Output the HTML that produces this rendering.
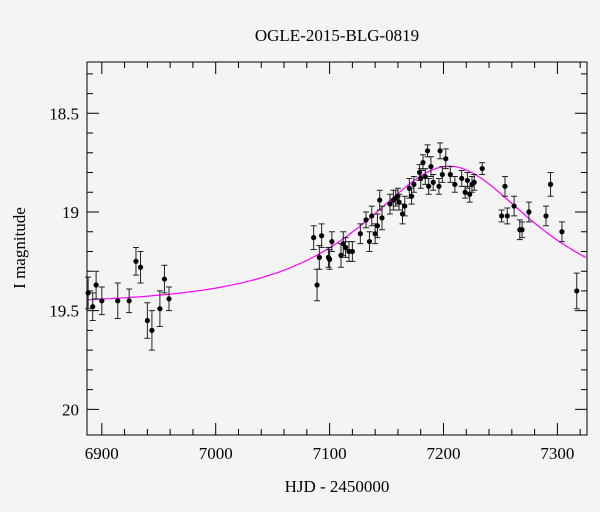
<!DOCTYPE html>
<html><head><meta charset="utf-8"><style>
body{margin:0;background:#f4f4f4}
svg{display:block;font-family:"Liberation Serif",serif}
</style></head><body>
<svg id="c" width="600" height="512">
<rect width="600" height="512" fill="#f4f4f4"/>
<text x="337" y="41" text-anchor="middle" font-size="17">OGLE-2015-BLG-0819</text>
<text x="337" y="492" text-anchor="middle" font-size="17">HJD - 2450000</text>
<text transform="translate(25,248) rotate(-90)" text-anchor="middle" font-size="17">I magnitude</text>
<g id="g"></g>
</svg>
<script>
const days=[6888,6892,6895,6900,6914,6924,6930,6934,6940,6944,6951,6955,6959,
7086,7093,7089,7091,7099,7100,7102,7110,7112,7114,7117,7120,7127,7132,7135,7137,7140,7142,7144,7146,7153,7156,7158,7160,7161,7164,7166,7170,7172,7174,7179,7180,7182,7184,7186,7187,7189,7191,7196,7197,7199,7202,7206,7210,7216,7219,7221,7223,7225,7227,7234,
7251,7254,7256,7262,7267,7269,7275,7290,7294,7304,7317];
const mags=[19.41,19.48,19.37,19.45,19.45,19.45,19.25,19.28,19.55,19.60,19.49,19.34,19.44,
19.13,19.12,19.37,19.23,19.23,19.24,19.15,19.22,19.16,19.18,19.20,19.20,19.11,19.04,19.15,19.02,19.11,19.07,18.94,19.03,18.96,18.94,18.93,18.92,18.95,19.01,18.97,18.88,18.92,18.86,18.80,18.83,18.75,18.82,18.69,18.87,18.77,18.85,18.87,18.69,18.81,18.73,18.81,18.86,18.83,18.90,18.84,18.91,18.86,18.85,18.78,
19.02,18.87,19.02,18.97,19.09,19.09,19.00,19.02,18.86,19.10,19.40];
const errs=[0.08,0.07,0.07,0.07,0.09,0.06,0.07,0.08,0.09,0.1,0.09,0.07,0.06,
0.06,0.06,0.08,0.06,0.05,0.05,0.05,0.06,0.06,0.05,0.05,0.05,0.05,0.04,0.05,0.05,0.05,0.06,0.05,0.06,0.05,0.05,0.04,0.04,0.04,0.05,0.05,0.05,0.04,0.04,0.04,0.05,0.04,0.04,0.03,0.04,0.05,0.04,0.04,0.04,0.04,0.05,0.04,0.04,0.04,0.03,0.04,0.04,0.04,0.04,0.03,
0.03,0.05,0.04,0.05,0.05,0.04,0.05,0.05,0.06,0.05,0.09];
const xTicks=[6900,7000,7100,7200,7300];
const yTicks=[18.5,19,19.5,20];
const model={t0:7205,u0:0.59,tE:120,base:19.47};
const L=87,R=587,T=62,B=435,X0=6887,X1=7326,Y0=18.24,Y1=20.13;
const xs=d=>L+(d-X0)/(X1-X0)*(R-L), ys=m=>T+(m-Y0)/(Y1-Y0)*(B-T);
const g=document.getElementById('g'),NS='http://www.w3.org/2000/svg';
function mk(t,a){const e=document.createElementNS(NS,t);for(const k in a)e.setAttribute(k,a[k]);g.appendChild(e);return e;}
// model curve
let p='';for(let d=X0;d<=X1;d+=2){const u=Math.sqrt(model.u0**2+((d-model.t0)/model.tE)**2);const A=(u*u+2)/(u*Math.sqrt(u*u+4));p+=(p?'L':'M')+xs(d).toFixed(1)+','+ys(model.base-2.5*Math.log10(A)).toFixed(1);}
const c=mk('path',{d:p,fill:'none',stroke:'#ff00ff','stroke-width':1.2});


// ticks
let tk='';
for(let d=6900;d<=7320;d+=20){const x=xs(d),len=d%100==0?12:6;tk+=`M${x},${B}v-${len}M${x},${T}v${len}`;}
for(let m=18.3;m<=20.1;m+=0.1){const y=ys(m),len=Math.abs(m*2-Math.round(m*2))<0.01?12:6;tk+=`M${L},${y}h${len}M${R},${y}h-${len}`;}
const t=mk('path',{d:tk,stroke:'#000','stroke-width':1});


xTicks.forEach(v=>{const e=mk('text',{x:xs(v),y:B+24,'text-anchor':'middle','font-size':17});e.textContent=v;

});
yTicks.forEach(v=>{const e=mk('text',{x:L-8,y:ys(v)+6,'text-anchor':'end','font-size':17});e.textContent=v;

});
// points
days.forEach((d,i)=>{const x=xs(d),y=ys(mags[i]),y1=ys(mags[i]-errs[i]),y2=ys(mags[i]+errs[i]);
const gg=mk('path',{d:`M${x},${y1}V${y2}M${x-3},${y1}h6M${x-3},${y2}h6`,stroke:'#222','stroke-width':1});


const ci=mk('circle',{cx:x,cy:y,r:2.6,fill:'#000'});

});
const fr=mk('rect',{x:L,y:T,width:R-L,height:B-T,fill:'none',stroke:'#000','stroke-width':1});


</script>
</body></html>
